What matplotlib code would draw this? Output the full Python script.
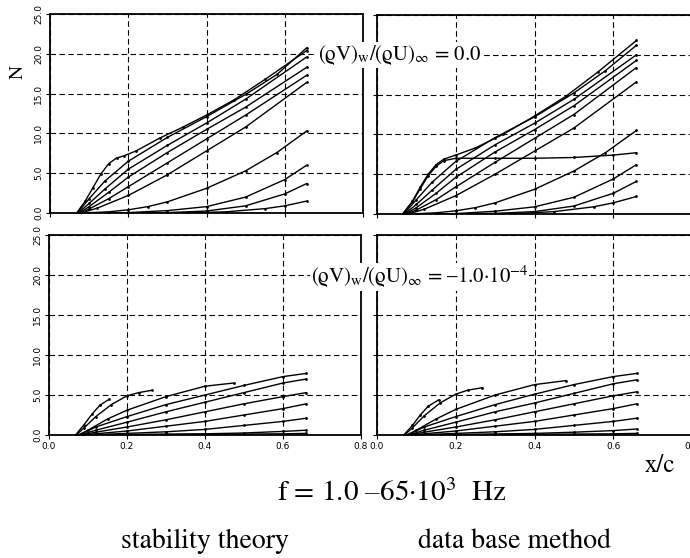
import matplotlib
matplotlib.use("Agg")
import matplotlib.pyplot as plt
from matplotlib.ticker import FormatStrFormatter

plt.rcParams["mathtext.fontset"] = "stix"
SERIF = ["STIXGeneral", "DejaVu Serif"]

# ---- N-factor curves: (x/c values, N values) per frequency -------------
# stability theory, (rho V)_w/(rho U)_inf = 0.0
st_suction0 = [
    ([0.068, 0.09, 0.11, 0.13, 0.15, 0.17, 0.19, 0.22, 0.28, 0.34, 0.40, 0.47, 0.55, 0.656],
     [0.0, 1.5, 3.2, 4.9, 6.2, 6.9, 7.2, 7.8, 9.4, 10.8, 12.3, 14.2, 16.8, 20.4]),
    ([0.07, 0.10, 0.14, 0.20, 0.30, 0.40, 0.50, 0.58, 0.656],
     [0.0, 1.8, 4.0, 6.5, 9.5, 12.1, 14.9, 17.4, 20.75]),
    ([0.072, 0.10, 0.14, 0.20, 0.30, 0.40, 0.50, 0.656],
     [0.0, 1.2, 3.0, 5.5, 8.5, 11.3, 14.3, 19.6]),
    ([0.075, 0.10, 0.15, 0.20, 0.30, 0.40, 0.50, 0.656],
     [0.0, 0.8, 2.6, 4.5, 7.6, 10.5, 13.3, 18.3]),
    ([0.078, 0.10, 0.15, 0.20, 0.30, 0.40, 0.50, 0.656],
     [0.0, 0.5, 1.8, 3.3, 6.3, 9.3, 12.3, 17.3]),
    ([0.08, 0.12, 0.20, 0.30, 0.40, 0.50, 0.656],
     [0.0, 0.6, 2.2, 4.8, 7.8, 10.8, 16.4]),
    ([0.085, 0.15, 0.20, 0.25, 0.30, 0.40, 0.50, 0.58, 0.656],
     [0.0, 0.15, 0.4, 0.8, 1.4, 3.1, 5.3, 7.6, 10.3]),
    ([0.10, 0.20, 0.30, 0.40, 0.50, 0.60, 0.656],
     [0.0, 0.05, 0.3, 0.8, 2.0, 4.2, 6.0]),
    ([0.15, 0.30, 0.40, 0.50, 0.60, 0.656],
     [0.0, 0.05, 0.25, 0.9, 2.4, 3.7]),
    ([0.20, 0.35, 0.45, 0.55, 0.60, 0.656],
     [0.0, 0.02, 0.15, 0.55, 0.9, 1.5]),
]

# data base method, (rho V)_w/(rho U)_inf = 0.0
db_suction0 = [
    ([0.065, 0.09, 0.11, 0.13, 0.15, 0.17, 0.20, 0.25, 0.32, 0.40, 0.48, 0.56, 0.659],
     [0.0, 1.6, 3.4, 5.0, 6.2, 6.9, 7.4, 8.3, 10.0, 12.3, 14.8, 17.8, 21.8]),
    ([0.065, 0.09, 0.11, 0.13, 0.15, 0.17, 0.20, 0.30, 0.40, 0.50, 0.60, 0.659],
     [0.0, 1.5, 3.2, 4.8, 6.0, 6.7, 7.0, 7.0, 7.0, 7.1, 7.4, 7.7]),
    ([0.068, 0.10, 0.14, 0.20, 0.30, 0.40, 0.50, 0.58, 0.659],
     [0.0, 1.8, 4.0, 6.6, 9.6, 12.2, 15.2, 18.0, 21.2]),
    ([0.07, 0.10, 0.14, 0.20, 0.30, 0.40, 0.50, 0.659],
     [0.0, 1.2, 3.0, 5.6, 8.7, 11.4, 14.4, 20.0]),
    ([0.072, 0.10, 0.15, 0.20, 0.30, 0.40, 0.50, 0.659],
     [0.0, 0.8, 2.6, 4.6, 7.8, 10.6, 13.6, 19.3]),
    ([0.075, 0.10, 0.15, 0.20, 0.30, 0.40, 0.50, 0.659],
     [0.0, 0.5, 1.8, 3.4, 6.5, 9.5, 12.5, 18.4]),
    ([0.08, 0.12, 0.20, 0.30, 0.40, 0.50, 0.659],
     [0.0, 0.6, 2.3, 5.0, 7.9, 10.8, 16.6]),
    ([0.085, 0.15, 0.20, 0.25, 0.30, 0.40, 0.50, 0.58, 0.659],
     [0.0, 0.15, 0.4, 0.8, 1.4, 3.1, 5.4, 7.7, 10.5]),
    ([0.10, 0.20, 0.30, 0.40, 0.50, 0.60, 0.659],
     [0.0, 0.05, 0.35, 0.9, 2.1, 4.4, 6.2]),
    ([0.15, 0.30, 0.40, 0.50, 0.60, 0.659],
     [0.0, 0.08, 0.3, 1.0, 2.6, 4.1]),
    ([0.20, 0.35, 0.45, 0.55, 0.60, 0.659],
     [0.0, 0.05, 0.3, 0.9, 1.4, 2.2]),
]

# stability theory, (rho V)_w/(rho U)_inf = -1.0e-4
st_suction1 = [
    ([0.068, 0.09, 0.11, 0.13, 0.155],
     [0.0, 1.3, 2.6, 3.7, 4.5]),
    ([0.07, 0.09, 0.12, 0.16, 0.20, 0.23, 0.265],
     [0.0, 0.9, 2.3, 3.8, 4.9, 5.3, 5.6]),
    ([0.075, 0.10, 0.15, 0.20, 0.30, 0.40, 0.474],
     [0.0, 0.6, 2.0, 3.1, 4.8, 6.1, 6.5]),
    ([0.078, 0.12, 0.20, 0.30, 0.40, 0.50, 0.60, 0.66],
     [0.0, 1.0, 2.3, 3.8, 5.0, 6.2, 7.3, 7.7]),
    ([0.08, 0.12, 0.20, 0.30, 0.40, 0.50, 0.60, 0.66],
     [0.0, 0.6, 1.6, 2.9, 4.1, 5.3, 6.5, 7.0]),
    ([0.082, 0.12, 0.20, 0.30, 0.40, 0.50, 0.60, 0.66],
     [0.0, 0.35, 1.0, 1.9, 2.9, 3.9, 4.8, 5.3]),
    ([0.085, 0.20, 0.30, 0.40, 0.50, 0.60, 0.66],
     [0.0, 0.5, 1.1, 1.7, 2.5, 3.3, 3.9]),
    ([0.09, 0.20, 0.30, 0.40, 0.50, 0.60, 0.66],
     [0.0, 0.2, 0.4, 0.7, 1.2, 1.7, 2.1]),
    ([0.10, 0.20, 0.30, 0.40, 0.50, 0.60, 0.66],
     [0.0, 0.05, 0.1, 0.15, 0.25, 0.45, 0.6]),
    ([0.10, 0.20, 0.30, 0.40, 0.50, 0.60, 0.66],
     [0.0, 0.05, 0.08, 0.1, 0.12, 0.15, 0.2]),
]

# data base method, (rho V)_w/(rho U)_inf = -1.0e-4
db_suction1 = [
    ([0.068, 0.09, 0.11, 0.13, 0.157],
     [0.0, 1.2, 2.5, 3.6, 4.4]),
    ([0.07, 0.09, 0.12, 0.16, 0.20, 0.23, 0.266],
     [0.0, 0.9, 2.4, 4.0, 5.1, 5.6, 5.9]),
    ([0.075, 0.10, 0.15, 0.20, 0.30, 0.40, 0.48],
     [0.0, 0.6, 2.0, 3.2, 5.0, 6.3, 6.8]),
    ([0.078, 0.12, 0.20, 0.30, 0.40, 0.50, 0.60, 0.66],
     [0.0, 1.0, 2.3, 3.8, 5.1, 6.3, 7.3, 7.7]),
    ([0.08, 0.12, 0.20, 0.30, 0.40, 0.50, 0.60, 0.66],
     [0.0, 0.6, 1.6, 2.9, 4.0, 5.2, 6.4, 6.9]),
    ([0.082, 0.12, 0.20, 0.30, 0.40, 0.50, 0.60, 0.66],
     [0.0, 0.35, 1.0, 1.9, 2.9, 3.9, 4.9, 5.4]),
    ([0.085, 0.20, 0.30, 0.40, 0.50, 0.60, 0.66],
     [0.0, 0.5, 1.1, 1.7, 2.5, 3.3, 3.9]),
    ([0.09, 0.20, 0.30, 0.40, 0.50, 0.60, 0.66],
     [0.0, 0.2, 0.4, 0.7, 1.2, 1.7, 2.1]),
    ([0.10, 0.20, 0.30, 0.40, 0.50, 0.60, 0.66],
     [0.0, 0.05, 0.12, 0.2, 0.35, 0.55, 0.75]),
    ([0.10, 0.20, 0.30, 0.40, 0.50, 0.60, 0.66],
     [0.0, 0.05, 0.08, 0.1, 0.12, 0.15, 0.2]),
]

x_ticks = [0.0, 0.2, 0.4, 0.6, 0.8]
n_ticks = [0.0, 5.0, 10.0, 15.0, 20.0, 25.0]

annot_v0 = "(ϱV)$_{\\mathrm{w}}$/(ϱU)$_{\\infty}$ = 0.0"
annot_v1 = "(ϱV)$_{\\mathrm{w}}$/(ϱU)$_{\\infty}$ = \u20131.0\u00b710$^{-4}$"
freq_text = "f = 1.0 \u201365\u00b710$^{3}$  Hz"
method_labels = ["stability theory", "data base method"]

W, H = 690, 558
fig = plt.figure(figsize=(W / 100, H / 100), dpi=100)


def px_axes(left, top, right, bottom):
    return fig.add_axes([left / W, 1 - bottom / H, (right - left) / W, (bottom - top) / H])


panels = [
    (px_axes(50, 14, 363, 213), st_suction0, True, False),
    (px_axes(377, 15, 692, 214), db_suction0, False, False),
    (px_axes(49, 235, 361, 435), st_suction1, True, True),
    (px_axes(377, 235, 692, 435), db_suction1, False, True),
]

for ax, curves, ylab, xlab in panels:
    ax.set_xlim(0.0, 0.8)
    ax.set_ylim(0.0, 25.0)
    ax.set_xticks(x_ticks)
    ax.set_yticks(n_ticks)
    ax.grid(True, color="black", linestyle=(0, (5, 3)), linewidth=0.8)
    ax.set_axisbelow(True)
    for s in ax.spines.values():
        s.set_linewidth(1.3)
    ax.tick_params(direction="out", length=3, width=0.8, labelsize=6.5, pad=2)
    ax.yaxis.set_major_formatter(FormatStrFormatter("%.1f"))
    ax.xaxis.set_major_formatter(FormatStrFormatter("%.1f"))
    if ylab:
        for t in ax.get_yticklabels():
            t.set_rotation(90)
            t.set_va("center")
    else:
        ax.tick_params(axis="y", labelleft=False)
    if not xlab:
        ax.tick_params(axis="x", labelbottom=False)
    for xs, ns in curves:
        ax.plot(xs, ns, color="black", linewidth=1.0, marker="o",
                markersize=1.0, solid_capstyle="round")

fig.text(18 / W, 1 - 72 / H, "N", rotation=90, ha="center", va="center",
         fontsize=14, family=SERIF)

box = dict(facecolor="white", edgecolor="none", pad=0.5)
fig.text(318 / W, 1 - 55 / H, annot_v0, ha="left", va="center",
         fontsize=15, family=SERIF, bbox=box)
fig.text(311 / W, 1 - 277 / H, annot_v1, ha="left", va="center",
         fontsize=15, family=SERIF, bbox=box)

fig.text(660 / W, 1 - 466 / H, "x/c", ha="center", va="center",
         fontsize=18, family=SERIF)
fig.text(392 / W, 1 - 493 / H, freq_text, ha="center", va="center",
         fontsize=21, family=SERIF)
fig.text(205 / W, 1 - 541 / H, method_labels[0], ha="center", va="center",
         fontsize=20, family=SERIF)
fig.text(515 / W, 1 - 541 / H, method_labels[1], ha="center", va="center",
         fontsize=20, family=SERIF)

fig.savefig("out.png", dpi=100, facecolor="white")
